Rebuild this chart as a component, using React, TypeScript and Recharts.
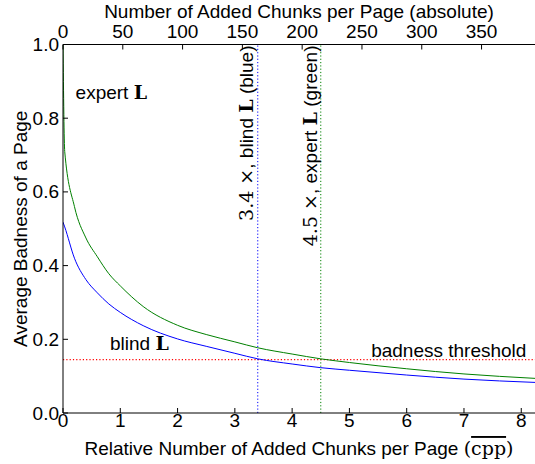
import React from 'react';
import { LineChart, Line, XAxis, YAxis, ReferenceLine, ReferenceDot, Label } from 'recharts';

// Relative number of added chunks per page (bottom axis)
const relX = [0, 0.03, 0.2, 0.4, 0.6, 0.8, 1.0, 1.4, 2.0, 2.5, 3.0, 3.4, 4.0, 4.5, 5.0, 6.0, 7.0, 8.24];
// Average badness, blind L (blue)
const blindBadness = [0.518, 0.505, 0.42, 0.362, 0.326, 0.296, 0.273, 0.237, 0.201, 0.181, 0.162, 0.147, 0.133, 0.123, 0.116, 0.103, 0.092, 0.083];
// Average badness, expert L (green)
const expertBadness = [1.0, 0.71, 0.56, 0.475, 0.424, 0.378, 0.345, 0.289, 0.238, 0.213, 0.193, 0.177, 0.16, 0.147, 0.137, 0.12, 0.106, 0.094];

const bottomTicks = [0, 1, 2, 3, 4, 5, 6, 7, 8];
const topTicks = [0, 50, 100, 150, 200, 250, 300, 350];
const yTicks = [0, 0.2, 0.4, 0.6, 0.8, 1.0];

const X_MAX = 8.24;
const CHUNKS_PER_REL = 47.9;
const THRESHOLD = 0.145;
const BLIND_FACTOR = 3.4;
const EXPERT_FACTOR = 4.5;

const data = relX.map((x, i) => ({
  x,
  chunks: x * CHUNKS_PER_REL,
  blind: blindBadness[i],
  expert: expertBadness[i],
}));

const SANS = '"Liberation Sans", Arial, Helvetica, sans-serif';
const SERIF = '"DejaVu Serif", "Liberation Serif", serif';
const FS = 19;

const BottomTick = (props: any) => {
  const { x, y, payload } = props;
  return (
    <g>
      <line x1={x} x2={x} y1={y} y2={y - 5} stroke="#000" strokeWidth={1} />
      <text x={x} y={y + 14} textAnchor="middle" fontSize={FS} fontFamily={SANS} fill="#000">
        {payload.value}
      </text>
    </g>
  );
};

const TopTick = (props: any) => {
  const { x, y, payload } = props;
  return (
    <g>
      <line x1={x} x2={x} y1={y} y2={y + 5} stroke="#000" strokeWidth={1} />
      <text x={x} y={y - 7} textAnchor="middle" fontSize={FS} fontFamily={SANS} fill="#000">
        {payload.value}
      </text>
    </g>
  );
};

const LeftTick = (props: any) => {
  const { x, y, payload } = props;
  return (
    <g>
      <line x1={x} x2={x + 5} y1={y} y2={y} stroke="#000" strokeWidth={1} />
      <text x={x - 4} y={y + 6.5} textAnchor="end" fontSize={FS} fontFamily={SANS} fill="#000">
        {Number(payload.value).toFixed(1)}
      </text>
    </g>
  );
};

const BottomTitle = (props: any) => {
  const vb = props.viewBox;
  return (
    <text x={vb.x + vb.width / 2} y={vb.y + 42} textAnchor="middle" fontSize={FS} fontFamily={SANS} fill="#000">
      Relative Number of Added Chunks per Page{' '}
      <tspan fontFamily={SERIF}>(</tspan>
      <tspan fontFamily={SERIF} textDecoration="overline">cpp</tspan>
      <tspan fontFamily={SERIF}>)</tspan>
    </text>
  );
};

const TopTitle = (props: any) => {
  const vb = props.viewBox;
  return (
    <text x={vb.x + vb.width / 2} y={vb.y + 18} textAnchor="middle" fontSize={FS} fontFamily={SANS} fill="#000">
      Number of Added Chunks per Page (absolute)
    </text>
  );
};

const LeftTitle = (props: any) => {
  const vb = props.viewBox;
  const cx = 27;
  const cy = vb.y + vb.height / 2;
  return (
    <text x={cx} y={cy} transform={`rotate(-90, ${cx}, ${cy})`} textAnchor="middle" fontSize={FS} fontFamily={SANS} fill="#000">
      Average Badness of a Page
    </text>
  );
};

const textAt = (content: React.ReactNode, anchor: string = 'start') => (props: any) => (
  <text x={props.cx} y={props.cy} textAnchor={anchor} fontSize={FS} fontFamily={SANS} fill="#000">
    {content}
  </text>
);

const vertAt = (content: React.ReactNode, dy: number) => (props: any) => (
  <text
    x={props.cx}
    y={props.cy}
    dx={-1}
    dy={dy}
    transform={`rotate(-90, ${props.cx}, ${props.cy})`}
    textAnchor="end"
    fontSize={FS}
    fontFamily={SANS}
    fill="#000"
  >
    {content}
  </text>
);

export default function App() {
  return (
    <div style={{ position: 'absolute', left: 0, top: 0, width: 535, height: 464, background: '#fff' }}>
      <LineChart width={535} height={464} data={data} margin={{ top: 0, right: 0, bottom: 0, left: 0 }}>
        <XAxis
          xAxisId="bottom"
          type="number"
          dataKey="x"
          orientation="bottom"
          domain={[0, X_MAX]}
          ticks={bottomTicks}
          allowDataOverflow
          height={51}
          tickSize={0}
          tickMargin={0}
          tickLine={false}
          tick={<BottomTick />}
          axisLine={{ stroke: '#000', strokeWidth: 1 }}
          interval={0}
        >
          <Label content={<BottomTitle />} />
        </XAxis>
        <XAxis
          xAxisId="top"
          type="number"
          dataKey="chunks"
          orientation="top"
          domain={[0, X_MAX * CHUNKS_PER_REL]}
          ticks={topTicks}
          allowDataOverflow
          height={44.5}
          tickSize={0}
          tickMargin={0}
          tickLine={false}
          tick={<TopTick />}
          axisLine={{ stroke: '#000', strokeWidth: 1 }}
          interval={0}
        >
          <Label content={<TopTitle />} />
        </XAxis>
        <YAxis
          type="number"
          domain={[0, 1]}
          ticks={yTicks}
          width={63}
          tickSize={0}
          tickMargin={0}
          tickLine={false}
          tick={<LeftTick />}
          axisLine={{ stroke: '#000', strokeWidth: 1 }}
          interval={0}
        >
          <Label content={<LeftTitle />} />
        </YAxis>

        <ReferenceLine xAxisId="bottom" y={THRESHOLD} stroke="#ff0000" strokeDasharray="1.2 2.1" strokeWidth={1.2} />
        <ReferenceLine xAxisId="bottom" x={BLIND_FACTOR} stroke="#0000ff" strokeDasharray="1.2 2.1" strokeWidth={1} />
        <ReferenceLine xAxisId="bottom" x={EXPERT_FACTOR} stroke="#008000" strokeDasharray="1.2 2.1" strokeWidth={1} />

        {/* same blind series against the absolute axis; invisible, it only ties the top axis to the data */}
        <Line xAxisId="top" type="monotone" dataKey="blind" stroke="none" dot={false} activeDot={false} isAnimationActive={false} />
        <Line xAxisId="bottom" type="monotone" dataKey="expert" stroke="#008000" strokeWidth={1} dot={false} isAnimationActive={false} />
        <Line xAxisId="bottom" type="monotone" dataKey="blind" stroke="#0000ff" strokeWidth={1} dot={false} isAnimationActive={false} />

        <ReferenceDot
          xAxisId="bottom"
          x={0.22}
          y={0.851}
          r={0}
          shape={textAt(<>expert <tspan fontFamily={SERIF} fontWeight="bold">L</tspan></>)}
        />
        <ReferenceDot
          xAxisId="bottom"
          x={0.82}
          y={0.171}
          r={0}
          shape={textAt(<>blind <tspan fontFamily={SERIF} fontWeight="bold">L</tspan></>)}
        />
        <ReferenceDot
          xAxisId="bottom"
          x={8.09}
          y={0.153}
          r={0}
          shape={textAt('badness threshold', 'end')}
        />
        <ReferenceDot
          xAxisId="bottom"
          x={BLIND_FACTOR}
          y={1.0}
          r={0}
          shape={vertAt(
            <>
              <tspan fontFamily={SERIF}>3.4 ×</tspan>, blind <tspan fontFamily={SERIF} fontWeight="bold">L</tspan> (blue)
            </>,
            -5
          )}
        />
        <ReferenceDot
          xAxisId="bottom"
          x={EXPERT_FACTOR}
          y={1.0}
          r={0}
          shape={vertAt(
            <>
              <tspan fontFamily={SERIF}>4.5 ×</tspan>, expert <tspan fontFamily={SERIF} fontWeight="bold">L</tspan> (green)
            </>,
            -4
          )}
        />
      </LineChart>
    </div>
  );
}
